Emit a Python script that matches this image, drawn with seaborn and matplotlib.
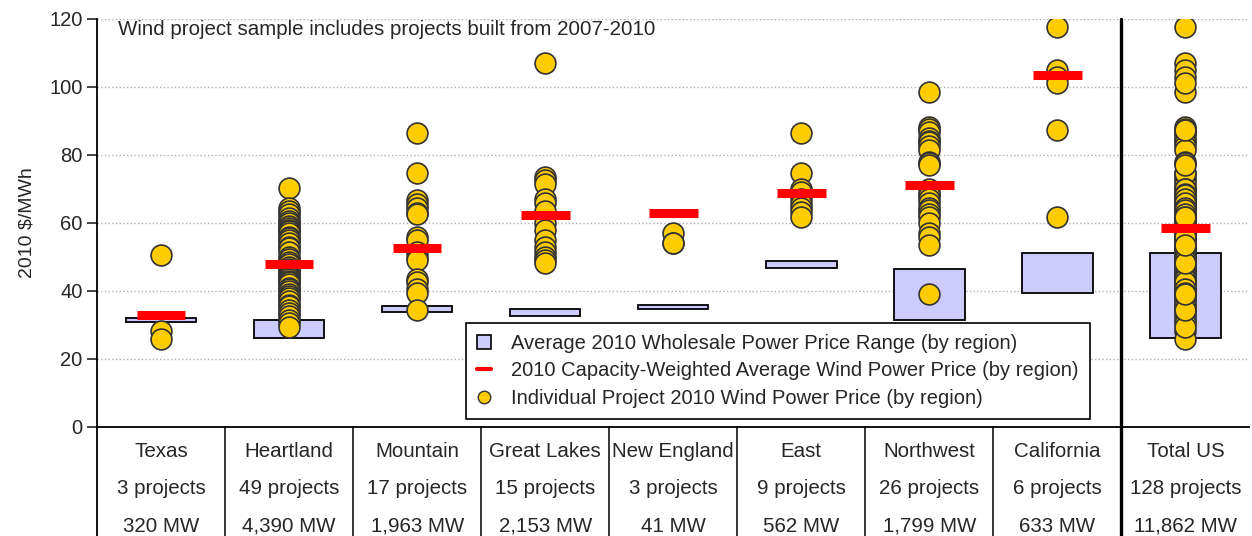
import matplotlib
matplotlib.use("Agg")
import matplotlib.pyplot as plt
import seaborn as sns
import pandas as pd
import numpy as np
from matplotlib.patches import Patch
from matplotlib.lines import Line2D

regions = ["Texas", "Heartland", "Mountain", "Great Lakes", "New England",
           "East", "Northwest", "California", "Total US"]
project_counts = ["3 projects", "49 projects", "17 projects", "15 projects", "3 projects",
                  "9 projects", "26 projects", "6 projects", "128 projects"]
capacities = ["320 MW", "4,390 MW", "1,963 MW", "2,153 MW", "41 MW",
              "562 MW", "1,799 MW", "633 MW", "11,862 MW"]

# wholesale price range (low, high) per region
wholesale_low = [30.8, 26.2, 33.7, 32.6, 34.7, 46.8, 31.5, 39.3, 26.2]
wholesale_high = [32.0, 31.4, 35.7, 34.8, 35.9, 48.7, 46.4, 51.1, 51.1]

# capacity-weighted average wind price
weighted_avg = [32.8, 47.8, 52.5, 62.4, 62.8, 68.9, 71.2, 103.5, 58.6]

# individual project prices
texas = [50.6, 28.3, 25.9]
heartland = [70.4, 64.3, 63.5, 62.5, 61.5, 60.5, 60.0, 59.0, 58.5, 58.0,
             57.5, 57.0, 56.0, 55.5, 55.0, 54.0, 53.0, 52.5, 51.5, 50.1,
             49.5, 48.5, 48.0, 47.0, 46.5, 46.0, 45.5, 45.0, 44.5, 44.0,
             43.5, 43.0, 42.5, 42.0, 41.0, 40.5, 40.0, 39.0, 38.5, 37.8,
             37.0, 36.0, 35.5, 34.4, 33.5, 32.5, 31.5, 30.5, 29.5]
mountain = [86.4, 74.6, 66.8, 65.5, 64.5, 63.0, 62.5, 56.0, 55.0, 51.5,
            50.0, 49.0, 43.5, 42.5, 40.5, 39.5, 34.4]
great_lakes = [107.0, 73.6, 72.5, 71.5, 67.0, 66.0, 63.5, 60.0, 58.0, 55.0,
               53.0, 51.5, 50.0, 49.0, 48.3]
new_england = [57.0, 54.2, 54.0]
east = [86.4, 74.6, 70.0, 69.0, 67.0, 65.5, 64.5, 63.3, 61.9]
northwest = [98.4, 88.3, 87.5, 86.9, 85.0, 84.0, 83.9, 82.5, 81.5, 78.0,
             77.5, 77.0, 70.0, 68.5, 68.2, 67.0, 65.8, 64.5, 63.8, 62.5,
             61.9, 60.0, 57.0, 56.0, 53.5, 39.0]
california = [117.7, 105.0, 103.0, 101.3, 87.4, 61.9]

project_prices = [texas, heartland, mountain, great_lakes, new_england,
                  east, northwest, california]
project_prices.append(sum(project_prices, []))

rows = []
for region, prices in zip(regions, project_prices):
    for p in prices:
        rows.append({"region": region, "price": p})
df = pd.DataFrame(rows)

sns.set_style("white")
plt.rcParams["font.family"] = ["Liberation Sans", "DejaVu Sans"]

fig = plt.figure(figsize=(12.52, 5.36), dpi=100)
ax = fig.add_axes([0.0775, 0.2034, 0.9205, 0.7612])

xpos = np.arange(len(regions))

# wholesale range boxes
ax.bar(xpos, np.array(wholesale_high) - np.array(wholesale_low), bottom=wholesale_low,
       width=0.55, color="#CCCCFF", edgecolor="black", linewidth=1.3, zorder=2)

# capacity-weighted averages
ax.hlines(weighted_avg, xpos - 0.19, xpos + 0.19, color="#FF0000", linewidth=6.5, zorder=4)

# individual projects
sns.stripplot(data=df, x="region", y="price", order=regions, jitter=False,
              size=15, color="#FFCC00", edgecolor="#333333", linewidth=1.2,
              ax=ax, zorder=3)

ax.set_xlim(-0.5, len(regions) - 0.5)
ax.set_ylim(0, 120)
ax.set_yticks(np.arange(0, 121, 20))
ax.tick_params(axis="y", labelsize=14.5, length=7, width=1.2, direction="out", left=True)
ax.set_xticks([])
ax.set_xlabel("")
ax.set_ylabel("2010 $/MWh", fontsize=14, labelpad=10)
ax.yaxis.grid(True, linestyle=":", color="#B0B0B0", linewidth=1)
ax.set_axisbelow(True)

for side in ["top", "right"]:
    ax.spines[side].set_visible(False)
ax.spines["left"].set_color("black")
ax.spines["left"].set_linewidth(1.3)
ax.spines["bottom"].set_color("black")
ax.spines["bottom"].set_linewidth(1.3)

ax.text(0.018, 0.998, "Wind project sample includes projects built from 2007-2010",
        transform=ax.transAxes, fontsize=14.8, va="top", ha="left")

# table under the plot
trans = ax.get_xaxis_transform()
bottom_frac = -0.27
ax.plot([-0.5, -0.5], [0, bottom_frac], transform=trans, color="black",
        linewidth=1.3, clip_on=False)
for i in range(len(regions) - 1):
    x = i + 0.5
    if i == len(regions) - 2:
        ax.plot([x, x], [1.0, bottom_frac], transform=trans, color="black",
                linewidth=2.4, clip_on=False, zorder=5)
    else:
        ax.plot([x, x], [0, bottom_frac], transform=trans, color="black",
                linewidth=1.1, clip_on=False)

for i in range(len(regions)):
    ax.text(i, -0.059, regions[i], transform=trans, ha="center", va="center", fontsize=14.8)
    ax.text(i, -0.152, project_counts[i], transform=trans, ha="center", va="center", fontsize=14.8)
    ax.text(i, -0.243, capacities[i], transform=trans, ha="center", va="center", fontsize=14.8)

handles = [
    Patch(facecolor="#CCCCFF", edgecolor="black", linewidth=1.2),
    Line2D([], [], color="#FF0000", linewidth=3),
    Line2D([], [], marker="o", linestyle="", markersize=9, markerfacecolor="#FFCC00",
           markeredgecolor="#333333"),
]
labels = [
    "Average 2010 Wholesale Power Price Range (by region)",
    "2010 Capacity-Weighted Average Wind Power Price (by region)",
    "Individual Project 2010 Wind Power Price (by region)",
]
leg = ax.legend(handles, labels, loc="lower left", bbox_to_anchor=(0.32, 0.02),
                fontsize=14.5, frameon=True, fancybox=False, framealpha=1,
                handlelength=0.7, handleheight=0.7, handletextpad=1.0,
                labelspacing=0.42, borderpad=0.55, borderaxespad=0)
leg.get_frame().set_edgecolor("black")
leg.get_frame().set_linewidth(1.2)
leg.set_zorder(6)

fig.savefig("out.png", dpi=100)
